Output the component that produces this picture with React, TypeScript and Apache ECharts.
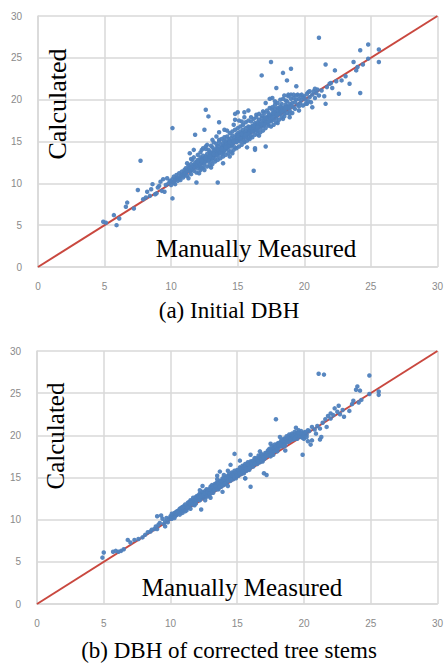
import React, { useEffect, useRef } from "react";
import * as echarts from "echarts";

const axisTicks = [0, 5, 10, 15, 20, 25, 30];
const panelTitles = ["(a) Initial DBH", "(b) DBH of corrected tree stems"];
const yAxisName = "Calculated";
const xAxisName = "Manually Measured";
const refLine = [[0, 0], [30, 30]];

const initialPoints = [
  [4.9,5.4],[5.1,5.3],[5.7,6.2],[5.9,5.0],[6.1,5.8],[6.6,7.2],[6.7,7.7],[7.2,7.0],[7.5,9.2],[7.7,12.7],[7.9,8.1],[8.1,8.3],[8.2,9.0],[8.4,8.5],[8.5,9.3],[8.6,9.9],[8.8,8.7],[8.9,8.8],[9.0,9.5],[9.1,9.7],[9.2,10.2],[9.3,9.1],[9.4,10.5],[9.5,9.0],[9.6,9.8],[9.7,10.6],[9.8,10.0],[9.9,10.3],
  [10.0,10.2],[10.0,9.8],[10.1,8.2],[10.1,10.5],[10.1,16.6],[10.2,10.1],[10.2,10.8],[10.3,10.4],[10.3,9.9],[10.4,10.6],[10.4,11.0],[10.5,10.3],[10.5,10.7],[10.6,10.5],[10.6,11.2],[10.7,10.8],[10.7,10.4],[10.8,11.0],[10.8,11.4],[10.9,10.7],[10.9,11.1],[11.0,11.3],[11.0,10.9],[11.0,11.6],
  [11.1,11.2],[11.1,11.8],[11.2,11.5],[11.2,10.9],[11.3,11.7],[11.3,12.1],[11.4,11.4],[11.4,11.9],[11.5,11.6],[11.5,12.3],[11.5,11.1],[11.6,12.0],[11.6,11.7],[11.7,12.2],[11.7,11.5],[11.8,15.8],[11.8,12.4],[11.8,11.9],[11.9,12.1],[11.9,12.6],[11.9,10.1],[12.0,12.3],[12.0,11.8],[12.0,12.8],[11.4,13.6],[11.6,12.8],
  [12.1,12.5],[12.1,12.0],[12.2,12.7],[12.2,13.1],[12.3,12.4],[12.3,12.9],[12.4,12.6],[12.4,13.3],[12.4,11.9],[12.5,12.8],[12.5,13.0],[12.5,12.3],[12.6,18.8],[12.6,13.2],[12.6,12.7],[12.7,13.5],[12.7,12.9],[12.8,18.0],[12.8,13.1],[12.8,12.6],[12.9,13.4],[12.9,13.8],[12.9,12.9],[13.0,13.2],[13.0,13.6],[13.0,12.7],[13.1,14.3],[12.3,14.0],[12.7,14.6],[12.2,11.6],[13.0,11.9],
  [13.1,13.4],[13.1,13.0],[13.2,13.7],[13.2,13.3],[13.2,14.0],[13.3,13.5],[13.3,13.9],[13.3,12.9],[13.4,13.6],[13.4,14.2],[13.5,10.1],[13.5,13.8],[13.5,14.5],[13.5,13.3],[13.6,14.0],[13.6,13.6],[13.6,15.2],[13.7,14.1],[13.7,13.8],[13.7,14.6],[13.8,14.3],[13.8,13.5],[13.8,14.0],[13.9,14.4],[13.9,14.8],[13.9,13.7],[14.0,14.2],[14.0,14.6],[14.0,13.9],[13.4,15.6],[13.9,12.4],[14.0,15.5],[13.6,16.1],
  [14.1,14.5],[14.1,14.1],[14.1,15.0],[14.2,14.7],[14.2,14.3],[14.3,14.9],[14.3,15.3],[14.3,14.0],[14.4,14.6],[14.4,15.1],[14.4,13.2],[14.5,14.8],[14.5,15.4],[14.5,14.4],[14.6,15.0],[14.6,15.7],[14.6,14.6],[14.7,15.2],[14.7,14.9],[14.7,17.0],[14.8,15.5],[14.8,15.0],[14.8,14.3],[14.9,15.3],[14.9,15.8],[14.9,14.9],[15.0,15.4],[15.0,15.1],[15.0,16.0],[14.6,13.6],[14.2,16.3],[15.0,18.5],[14.8,17.6],
  [15.1,15.6],[15.1,15.2],[15.2,15.8],[15.2,16.2],[15.2,15.0],[15.3,15.5],[15.3,16.0],[15.4,15.7],[15.4,16.4],[15.4,15.2],[15.5,15.9],[15.5,16.1],[15.5,14.9],[15.6,16.0],[15.6,16.6],[15.6,15.5],[15.7,16.2],[15.7,15.8],[15.8,16.3],[15.8,16.8],[15.8,15.4],[15.9,16.1],[15.9,16.5],[16.0,16.2],[16.0,16.7],[16.0,15.7],[15.3,17.4],[15.7,14.3],[16.0,17.9],[15.5,17.9],
  [16.1,16.4],[16.1,16.9],[16.2,11.5],[16.2,16.6],[16.2,16.2],[16.3,14.2],[16.3,16.8],[16.3,17.2],[16.4,16.5],[16.4,17.0],[16.5,16.9],[16.5,17.3],[16.5,16.3],[16.6,17.1],[16.6,17.6],[16.7,17.0],[16.7,16.6],[16.8,22.9],[16.8,17.4],[16.8,17.8],[16.9,17.2],[16.9,16.8],[17.0,17.5],[17.0,17.9],[17.0,17.1],[16.4,18.2],[16.9,18.6],[17.1,14.4],[16.6,15.7],[17.1,19.6],
  [17.1,17.6],[17.2,17.9],[17.2,17.3],[17.3,18.0],[17.3,18.4],[17.4,17.8],[17.4,18.2],[17.5,24.5],[17.5,18.0],[17.5,17.4],[17.6,18.3],[17.6,18.8],[17.7,18.1],[17.7,17.6],[17.8,18.5],[17.8,18.9],[17.9,21.4],[17.9,18.3],[17.9,17.8],[18.0,18.6],[18.0,19.0],[17.4,20.1],[17.6,20.2],[17.8,19.4],[18.0,17.2],[17.3,16.9],
  [18.1,18.4],[18.1,18.9],[18.2,19.2],[18.2,18.6],[18.3,19.0],[18.3,19.5],[18.4,23.2],[18.4,18.8],[18.5,19.1],[18.5,18.3],[18.6,19.4],[18.6,18.9],[18.7,22.3],[18.7,19.2],[18.7,19.8],[18.8,19.0],[18.9,19.5],[18.9,18.7],[19.0,23.7],[19.0,19.3],[19.0,20.6],[18.5,20.5],[18.8,20.4],[18.4,17.7],[18.9,17.9],
  [19.1,19.6],[19.2,19.1],[19.2,20.2],[19.3,19.7],[19.4,21.6],[19.4,20.0],[19.5,19.4],[19.5,20.6],[19.6,20.1],[19.7,19.6],[19.7,20.5],[19.8,20.0],[19.9,20.3],[19.9,19.3],[20.0,20.4],[20.1,20.0],[20.2,20.7],[20.3,19.8],[20.3,20.9],[20.4,20.3],[20.6,19.1],[20.6,20.6],[20.7,21.0],[20.8,20.2],[20.9,20.8],[21.0,21.2],[21.1,27.4],[21.1,20.5],[21.3,21.1],[21.5,20.4],[21.6,24.2],[21.6,19.5],[21.7,21.5],[21.9,21.9],[22.0,22.0],[22.1,21.4],[22.3,23.5],[22.4,22.2],[22.6,20.7],[22.8,22.3],[23.1,22.8],[23.4,21.9],[23.7,24.5],[23.9,23.5],[24.0,23.9],[24.2,25.9],[24.2,20.8],[24.4,24.2],[24.8,26.6],[24.8,24.9],[25.6,26.0],[25.6,24.5],[19.6,18.7],[20.2,19.5],
  [11.2,12.4],[11.3,10.6],[11.5,12.9],[11.7,13.1],[11.9,11.3],[12.0,13.4],[12.1,11.2],[12.2,13.7],[12.3,11.8],[12.4,14.2],[12.5,11.6],[12.6,14.1],[12.7,12.0],[12.8,14.0],[12.9,12.2],[13.0,14.5],[13.1,12.3],[13.2,14.9],[13.3,12.6],[13.4,14.7],[13.5,12.8],[13.6,15.0],[13.7,13.0],[13.8,15.3],[13.9,13.2],[14.0,15.1],[14.1,13.4],[14.2,15.6],[14.3,13.6],[14.4,16.0],[14.5,13.8],[14.6,16.2],[14.7,14.0],[14.8,16.4],[14.9,14.2],[15.0,16.6],[15.1,14.4],[15.2,16.8],[15.3,14.6],[15.4,17.0],[15.5,15.0],[15.6,17.3],[15.7,15.1],[15.8,17.5],[15.9,15.3],[16.0,17.4],[16.1,15.5],[16.2,17.7],[16.3,15.8],[16.4,17.9],[16.5,15.9],[16.6,18.3],[16.7,16.1],[16.8,18.1],[16.9,16.3],[17.0,18.4],[17.1,16.6],[17.2,18.7],[17.3,17.1],[17.4,19.0],[17.5,16.8],[17.6,19.1],[17.7,17.0],[17.8,19.8],[17.9,17.3],[18.0,19.6],[18.1,17.6],[18.2,20.0],[18.3,17.9],[18.4,20.1],[18.5,18.0],[18.6,19.9],[18.7,18.4],[18.8,20.6],[18.9,18.3],[19.0,20.1],[19.1,18.4],[19.2,20.6],[19.3,18.9],[19.4,20.5],[19.6,19.2],[19.8,20.6],[20.1,19.5],[20.4,21.0],[20.5,19.7],[20.8,21.3],
  [12.2,12.2],[12.5,12.5],[12.8,12.8],[13.1,13.1],[13.4,13.4],[13.7,13.7],[14.0,14.0],[14.3,14.4],[14.6,14.7],[14.9,15.0],[15.2,15.4],[15.5,15.6],[15.8,15.9],[16.1,16.2],[16.4,16.3],[16.7,16.9],[17.0,17.0],[17.3,17.4],[17.6,17.8],[17.9,18.1],[18.2,18.3],[18.5,18.7],[12.0,12.6],[12.3,12.7],[12.6,13.0],[12.9,13.2],[13.2,13.5],[13.5,14.1],[13.8,14.1],[14.1,14.3],[14.4,14.9],[14.7,15.0],[15.0,15.7],[15.3,15.9],[15.6,15.8],[15.9,16.7],[16.2,16.9],[16.5,16.7],[16.8,17.1],[17.1,17.8],[17.4,17.5],[17.7,18.4],[18.0,18.2],[18.3,18.6],[18.6,19.1],[18.9,19.1],
  [12.5,16.4],[13.6,17.3],[14.0,16.4],[14.8,18.3],[15.1,17.5],[15.8,18.7],[15.5,18.5],[13.1,15.2],[11.7,14.0],[12.6,14.4],[16.3,14.0]
];

const correctedPoints = [
  [4.9,5.5],[5.0,6.1],[5.7,6.2],[5.9,6.3],[6.1,6.2],[6.3,6.3],[6.5,6.5],[6.8,7.6],[7.0,7.3],[7.3,7.6],[7.6,7.7],[7.9,7.9],[8.1,8.2],[8.3,8.5],[8.5,8.6],[8.6,8.8],[8.8,8.9],[8.9,9.2],[9.0,8.9],[9.0,10.4],[9.1,9.4],[9.2,9.6],[9.3,10.5],[9.4,10.1],[9.5,9.5],[9.6,9.8],[9.7,10.2],[9.8,9.7],[9.9,10.1],[9.6,9.2],
  [10.0,10.2],[10.0,10.4],[10.1,10.1],[10.1,10.5],[10.2,10.3],[10.2,10.6],[10.3,10.4],[10.3,10.8],[10.4,10.5],[10.4,10.9],[10.5,10.6],[10.5,11.0],[10.6,10.8],[10.6,11.1],[10.7,10.9],[10.7,11.3],[10.8,11.0],[10.8,11.4],[10.9,11.2],[10.9,10.8],[11.0,11.3],[11.0,11.6],
  [11.1,11.4],[11.1,11.8],[11.2,11.5],[11.2,11.1],[11.3,11.7],[11.3,12.0],[11.4,11.6],[11.4,12.1],[11.5,11.8],[11.5,12.3],[11.6,11.9],[11.6,12.2],[11.7,12.0],[11.7,12.6],[11.8,12.1],[11.8,12.4],[11.9,12.2],[11.9,12.7],[12.0,12.3],[12.0,12.8],[11.5,11.3],[11.8,11.7],
  [12.1,12.4],[12.1,12.9],[12.2,12.6],[12.2,13.1],[12.3,12.5],[12.3,13.0],[12.3,11.2],[12.4,12.8],[12.4,13.3],[12.5,12.7],[12.5,13.2],[12.6,12.9],[12.6,13.4],[12.7,13.0],[12.7,13.6],[12.8,13.1],[12.8,13.5],[12.9,13.3],[12.9,12.8],[13.0,13.4],[13.0,13.9],[12.6,12.3],[13.0,12.6],[12.4,14.0],
  [13.1,13.5],[13.1,14.1],[13.2,13.6],[13.2,13.2],[13.3,13.8],[13.3,14.2],[13.4,13.7],[13.4,14.3],[13.5,13.9],[13.5,14.4],[13.6,14.0],[13.6,13.6],[13.7,14.2],[13.7,14.6],[13.8,14.3],[13.8,13.9],[13.9,14.4],[13.9,14.9],[14.0,14.5],[14.0,14.1],[13.5,15.2],[13.9,13.3],[14.0,15.3],
  [14.1,14.6],[14.1,15.0],[14.2,14.7],[14.2,14.3],[14.3,14.9],[14.3,15.2],[14.4,14.8],[14.4,15.4],[14.5,15.0],[14.5,16.5],[14.5,14.6],[14.6,15.1],[14.6,15.6],[14.7,15.2],[14.7,14.8],[14.8,17.8],[14.8,15.4],[14.8,15.8],[14.9,15.3],[14.9,14.9],[15.0,15.5],[15.0,15.9],[13.7,15.7],[14.3,14.0],
  [15.1,15.6],[15.1,15.2],[15.2,15.8],[15.2,16.2],[15.3,15.7],[15.3,15.4],[15.4,16.0],[15.4,16.4],[15.5,15.9],[15.5,15.5],[15.6,16.1],[15.6,16.6],[15.7,16.2],[15.7,15.8],[15.8,16.4],[15.8,16.8],[15.9,16.3],[15.9,15.9],[16.0,16.6],[16.0,13.9],[16.0,16.2],[15.6,14.9],
  [16.1,16.5],[16.1,16.9],[16.2,16.7],[16.2,16.3],[16.3,16.9],[16.3,17.3],[16.4,16.8],[16.4,17.1],[16.5,17.0],[16.5,16.6],[16.6,17.2],[16.6,17.6],[16.7,17.1],[16.7,16.8],[16.8,17.4],[16.8,17.8],[16.9,17.3],[16.9,16.9],[17.0,17.6],[17.0,15.5],[17.0,17.2],[17.2,15.3],
  [17.1,17.7],[17.1,17.3],[17.2,17.9],[17.3,17.6],[17.3,18.2],[17.4,17.8],[17.4,18.4],[17.5,18.0],[17.5,17.5],[17.6,18.2],[17.6,18.7],[17.7,18.1],[17.7,17.7],[17.8,18.4],[17.8,18.9],[17.9,21.9],[17.9,18.3],[18.0,18.6],[18.0,19.0],[18.0,18.1],
  [18.1,18.5],[18.1,19.1],[18.2,18.8],[18.3,19.0],[18.3,19.4],[18.4,18.7],[18.4,19.2],[18.5,19.0],[18.5,19.6],[18.6,19.3],[18.6,18.8],[18.7,19.5],[18.7,19.9],[18.8,19.2],[18.9,19.6],[18.9,20.1],[19.0,19.4],[19.0,19.9],[18.6,18.2],
  [19.1,19.7],[19.1,20.2],[19.2,19.5],[19.3,20.0],[19.3,20.4],[19.4,19.8],[19.5,20.3],[19.5,19.6],[19.6,20.0],[19.6,20.6],[19.7,20.2],[19.8,19.8],[19.8,20.5],[19.9,20.1],[19.9,17.7],[20.0,20.3],[20.0,19.6],[20.2,20.1],[20.3,19.3],[20.4,20.5],[20.5,18.9],[20.6,21.0],[20.6,19.4],[20.8,20.7],[20.9,20.2],[21.0,21.1],[21.1,27.3],[21.2,20.8],[21.3,19.8],[21.2,19.5],[21.7,21.0],[21.5,27.2],[21.4,21.5],[21.6,21.9],[21.8,22.3],[22.0,22.0],[22.0,22.6],[22.2,22.4],[22.3,23.2],[22.5,22.8],[22.6,23.5],[22.7,22.5],[22.9,23.0],[23.0,22.2],[23.4,22.9],[23.6,23.7],[23.7,24.1],[23.9,25.4],[24.0,25.8],[24.1,23.9],[24.2,25.3],[24.3,24.2],[24.9,27.1],[24.9,24.9],[25.6,25.2],[25.6,24.8],
  [10.1,10.7],[10.3,10.2],[10.5,10.9],[10.7,10.6],[10.9,11.5],[11.1,11.0],[11.3,11.4],[11.5,12.0],[11.7,11.8],[11.9,11.9],[12.1,12.6],[12.2,12.3],[12.3,12.8],[12.5,12.9],[12.6,13.1],[12.7,12.7],[12.8,13.3],[12.9,13.6],[13.0,13.1],[13.1,13.8],[13.2,13.9],[13.3,13.5],[13.4,14.0],[13.5,13.6],[13.6,14.3],[13.7,13.9],[13.8,14.6],[13.9,14.1],[14.0,14.8],[14.1,14.3],[14.2,15.0],[14.3,14.6],[14.4,15.1],[14.5,14.8],[14.6,15.3],[14.7,15.5],[14.8,15.1],[14.9,15.6],[15.0,15.2],[15.1,15.9],[15.2,15.5],[15.3,16.1],[15.4,15.7],[15.5,16.3],[15.6,16.4],[15.7,16.0],[15.8,16.6],[15.9,16.1],[16.0,16.9],[16.1,16.7],[16.2,17.0],[16.3,16.6],[16.4,17.3],[16.5,17.2],[16.6,16.9],[16.7,17.4],[16.8,17.1],[16.9,17.6],[17.0,17.4],[17.1,17.9],[17.2,17.6],[17.3,18.0],[17.4,18.1],[17.5,18.3],[17.6,17.9],[17.7,18.5],[17.8,18.1],[17.9,18.7],[18.0,18.4],[18.1,18.8],[18.2,19.1],[18.3,18.7],[18.4,19.4],[18.5,18.8],[18.6,19.6],[18.7,19.2],[18.8,19.7],[18.9,19.3],[19.0,19.6],[19.1,20.0],[19.2,19.9],[19.3,19.6],[19.4,20.2],[19.5,20.0],[19.6,20.3],[19.7,19.9],[19.8,20.2],[19.9,19.7],[20.0,20.0],[20.1,20.4],[20.2,19.8],[20.3,20.6],[16.0,17.7],[15.2,17.0],[14.3,15.8],[13.5,14.8],[17.5,19.0],[18.2,19.8],[12.2,13.5],[16.7,18.1],[19.4,20.9],[15.6,14.9]
];

const serif = "Liberation Serif";
const gridColor = "#d9d9d9";
const pointColor = "#4f81bd";
const lineColor = "#c9483f";

function makeAxis(gridIndex: number, margin: number) {
  return {
    type: "value",
    gridIndex,
    min: axisTicks[0],
    max: axisTicks[axisTicks.length - 1],
    interval: axisTicks[1] - axisTicks[0],
    axisLine: { show: true, lineStyle: { color: gridColor, width: 1.5 } },
    axisTick: { show: false },
    splitLine: { show: true, lineStyle: { color: gridColor, width: 1.5 } },
    axisLabel: { color: "#8a8a8a", fontSize: 10, fontFamily: "Liberation Sans", margin },
  };
}

export default function App() {
  const ref = useRef<HTMLDivElement>(null);
  useEffect(() => {
    if (!ref.current) return;
    const chart = echarts.init(ref.current, null, { renderer: "svg" });
    const panels = [initialPoints, correctedPoints];
    const series: any[] = [];
    panels.forEach((pts, i) => {
      series.push({
        type: "line",
        xAxisIndex: i,
        yAxisIndex: i,
        data: refLine,
        symbol: "none",
        lineStyle: { color: lineColor, width: 2 },
        z: 2,
      });
      series.push({
        type: "scatter",
        xAxisIndex: i,
        yAxisIndex: i,
        data: pts,
        symbolSize: 4.5,
        itemStyle: { color: pointColor, opacity: 0.95 },
        z: 3,
      });
    });
    const txt = (text: string, x: number, y: number, size: number, rot?: number) => ({
      type: "text",
      x,
      y,
      rotation: rot || 0,
      z: 10,
      style: { text, fontSize: size, fontFamily: serif, fill: "#000", align: "center", verticalAlign: "middle" },
    });
    chart.setOption({
      animation: false,
      backgroundColor: "#ffffff",
      grid: [
        { left: 38, top: 16, width: 401, height: 251 },
        { left: 37, top: 351, width: 406, height: 253 },
      ],
      xAxis: [makeAxis(0, 14), makeAxis(1, 14)],
      yAxis: [makeAxis(0, 16), makeAxis(1, 16)],
      series,
      graphic: [
        txt(yAxisName, 57, 104, 26, Math.PI / 2),
        txt(xAxisName, 256, 248, 25),
        txt(panelTitles[0], 229, 310, 23),
        txt(yAxisName, 55, 436, 25, Math.PI / 2),
        txt(xAxisName, 242, 587, 25),
        txt(panelTitles[1], 229, 650, 23),
      ],
    });
    return () => chart.dispose();
  }, []);
  return (
    <div
      ref={ref}
      style={{ position: "fixed", left: 0, top: 0, width: 446, height: 666 }}
    />
  );
}
